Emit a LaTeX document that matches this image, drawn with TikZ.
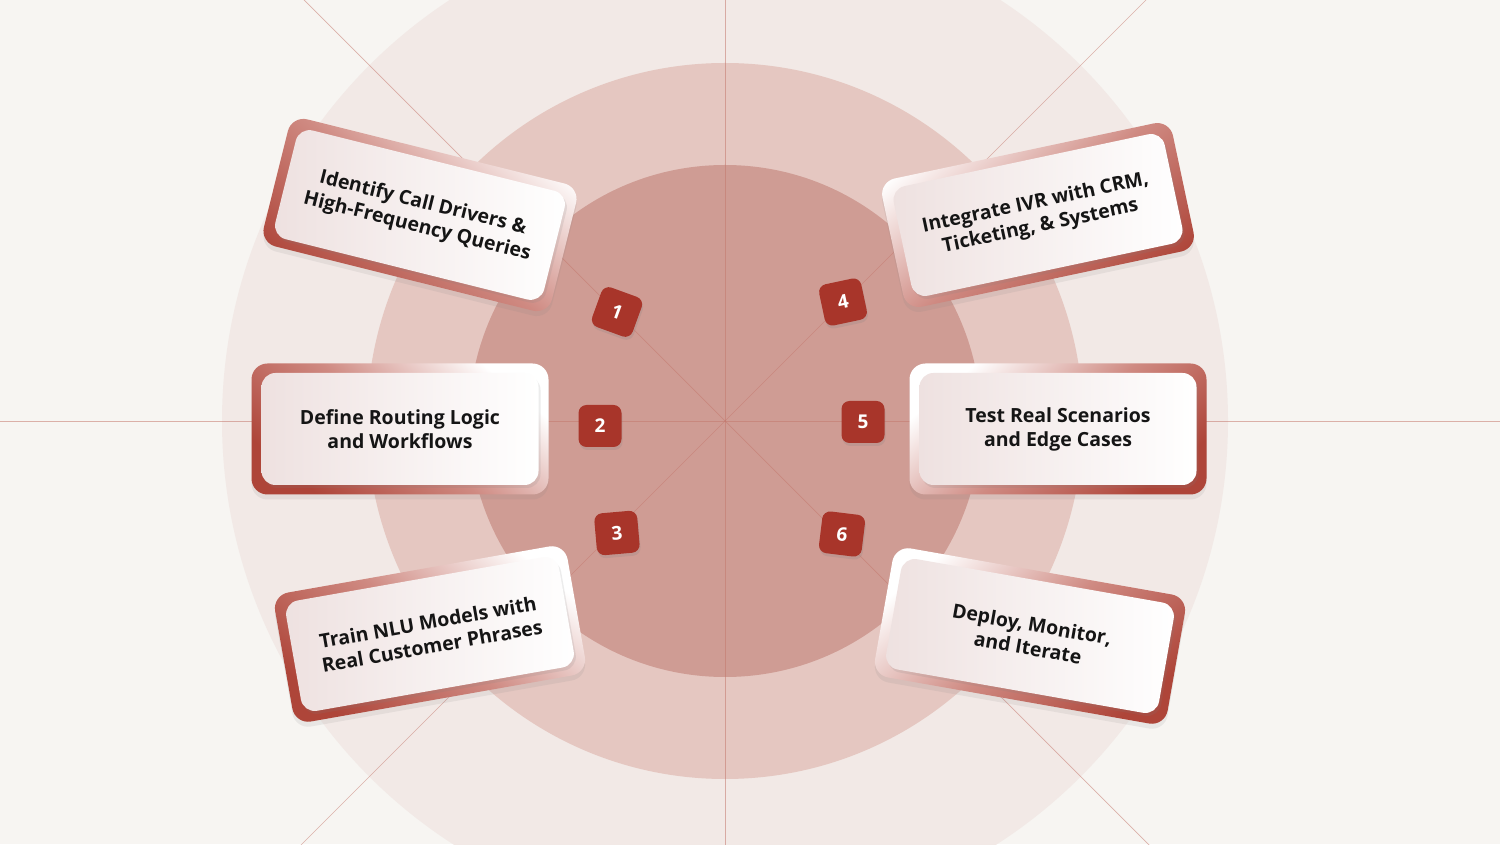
\documentclass[tikz,border=0pt]{standalone}
\usepackage{fontspec}
\setmainfont{Open Sans}
\usetikzlibrary{shadows}

\definecolor{bgcol}{HTML}{F7F5F2}
\definecolor{ringA}{HTML}{F2E9E6}
\definecolor{ringB}{HTML}{E5C7C1}
\definecolor{ringC}{HTML}{CF9C94}
\definecolor{spokecol}{HTML}{C4786D}
\definecolor{cardred}{HTML}{AE4539}
\definecolor{cardmid}{HTML}{CF8A82}
\definecolor{cardpink}{HTML}{EEE1E0}
\definecolor{badgered}{HTML}{A8352A}
\definecolor{inktext}{HTML}{151515}

\tikzset{
  spoke/.style={spokecol, line width=0.7pt, opacity=0.55},
  backcard/.style={rounded corners=16pt, minimum width=297pt, minimum height=131pt,
    inner sep=0pt, drop shadow={opacity=0.12, shadow xshift=0pt, shadow yshift=-5pt}},
  backleft/.style={backcard, top color=white, bottom color=cardred, middle color=cardmid, shading angle=-40},
  backright/.style={backcard, top color=white, bottom color=cardred, middle color=cardmid, shading angle=40},
  frontcard/.style={rounded corners=14pt, minimum width=277pt, minimum height=112pt,
    inner sep=0pt, left color=cardpink, right color=white, text=inktext, align=center,
    font=\bfseries\fontsize{19.5}{24}\selectfont,
    drop shadow={opacity=0.15, shadow xshift=2pt, shadow yshift=-3pt}},
  badge/.style={rounded corners=8pt, minimum width=43pt, minimum height=42pt,
    inner sep=0pt, fill=badgered, text=white, font=\bfseries\fontsize{19}{19}\selectfont,
    drop shadow={opacity=0.2, shadow xshift=1pt, shadow yshift=-3pt}}
}

\begin{document}
\begin{tikzpicture}[x=1pt, y=1pt]
    % Canvas
    \useasboundingbox (0,0) rectangle (1500,844);
    \fill[bgcol] (0,0) rectangle (1500,844);
    \clip (0,0) rectangle (1500,844);
    \coordinate (ctr) at (725,423);

    % Rings
    \fill[ringA] (ctr) circle[radius=503];
    \fill[ringB] (ctr) circle[radius=358];
    \fill[ringC] (ctr) circle[radius=256];

    % Spokes
    \foreach \a in {0,45,...,315} {
        \draw[spoke] (ctr) -- ++(\a:900);
    }

    % Left cards
    \node[backleft, rotate=-14] (b1) at (420,629) {};
    \node[frontcard, rotate=-14] (c1) at (b1) {Identify Call Drivers \&\\High-Frequency Queries};
    \node[backleft] (b2) at (400,415) {};
    \node[frontcard] (c2) at (b2) {Define Routing Logic\\and Workflows};
    \node[backleft, rotate=10] (b3) at (430,210) {};
    \node[frontcard, rotate=10] (c3) at (b3) {Train NLU Models with\\Real Customer Phrases};

    % Right cards
    \node[backright, rotate=12] (b4) at (1038,629) {};
    \node[frontcard, rotate=12] (c4) at (b4) {Integrate IVR with CRM,\\Ticketing, \& Systems};
    \node[backright] (b5) at (1058,415) {};
    \node[frontcard] (c5) at (b5) {Test Real Scenarios\\and Edge Cases};
    \node[backright, rotate=-10] (b6) at (1030,208) {};
    \node[frontcard, rotate=-10] (c6) at (b6) {Deploy, Monitor,\\and Iterate};

    % Step badges
    \node[badge, rotate=-20] (n1) at (617,532) {1};
    \node[badge] (n2) at (600,418) {2};
    \node[badge, rotate=5] (n3) at (617,311) {3};
    \node[badge, rotate=12] (n4) at (843,542) {4};
    \node[badge] (n5) at (863,422) {5};
    \node[badge, rotate=-7] (n6) at (842,310) {6};
\end{tikzpicture}
\end{document}
